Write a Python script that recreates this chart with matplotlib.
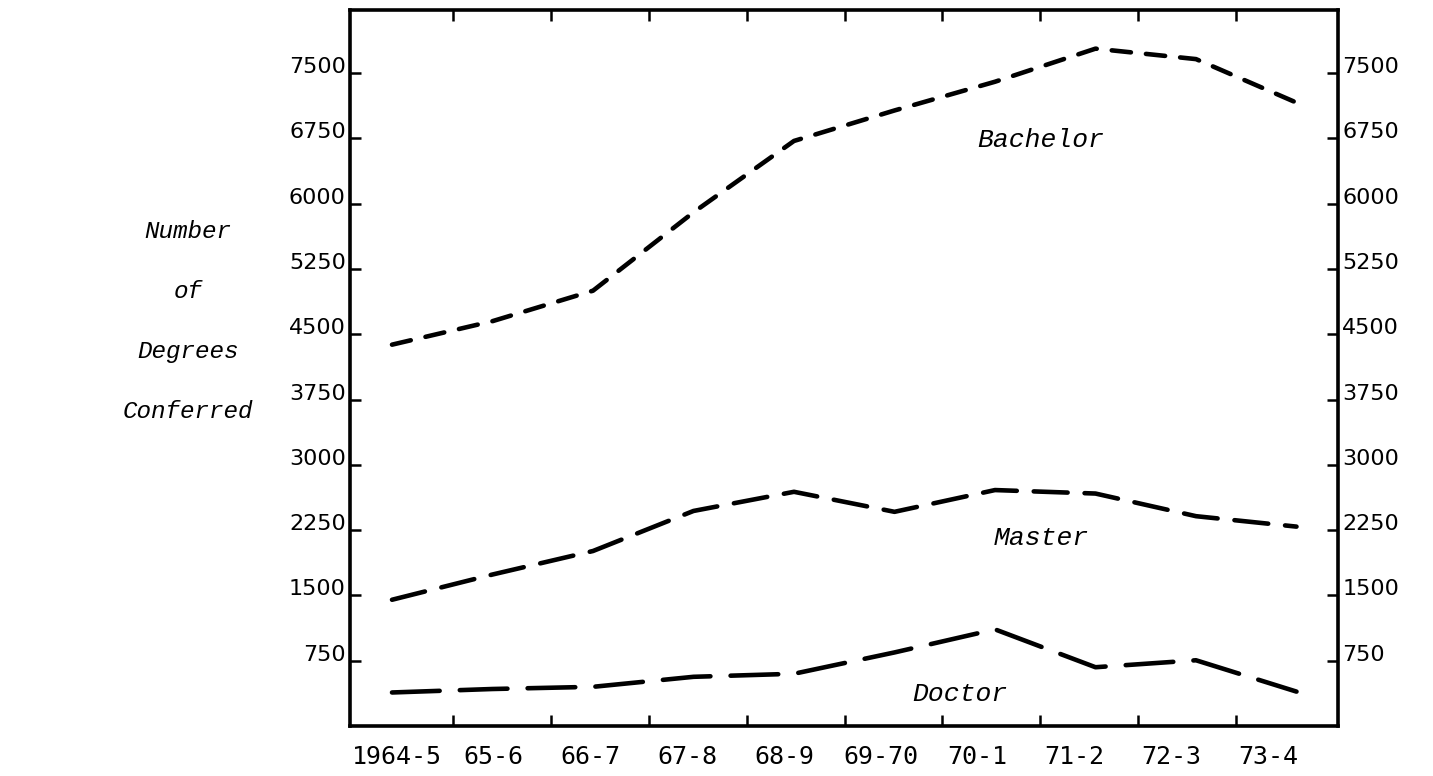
import numpy as np
import matplotlib
matplotlib.use("Agg")
import matplotlib.pyplot as plt

# ---- data ----
years = ["1964-5", "65-6", "66-7", "67-8", "68-9", "69-70", "70-1", "71-2", "72-3", "73-4"]
bachelor = [4380, 4650, 5000, 5900, 6720, 7070, 7400, 7780, 7660, 7160]
master = [1450, 1740, 2010, 2470, 2690, 2460, 2710, 2670, 2410, 2290]
doctor = [385, 425, 450, 565, 600, 845, 1110, 675, 755, 395]
y_ticks = [750, 1500, 2250, 3000, 3750, 4500, 5250, 6000, 6750, 7500]
ylabel_lines = ["Number", "of", "Degrees", "Conferred"]

W, H = 1433, 776
fig = plt.figure(figsize=(W / 100, H / 100), dpi=100)
fig.patch.set_facecolor("white")

# axes box in pixels: left 350, right 1338, top 10, bottom 726
ax = fig.add_axes([350 / W, 1 - 726 / H, (1338 - 350) / W, (726 - 10) / H])

x = np.arange(len(years))
mono_it = dict(family="Liberation Mono", style="italic", fontsize=19)

ax.plot(x, bachelor, color="black", lw=3.3, dashes=(4.2, 3.3), dash_capstyle="round")
ax.plot(x, master, color="black", lw=3.3, dashes=(7.4, 3.7), dash_capstyle="round")
ax.plot(x, doctor, color="black", lw=3.3, dashes=(10.4, 4.4), dash_capstyle="round")

ax.set_xlim(-0.418, 9.413)
ax.set_ylim(0, 8224)

# series labels
ax.text(6.46, 6730, "Bachelor", ha="center", va="center", **mono_it)
ax.text(6.46, 2165, "Master", ha="center", va="center", **mono_it)
ax.text(5.65, 362, "Doctor", ha="center", va="center", **mono_it)

# x labels (slightly compressed relative to data positions, as in the original)
label_pos = np.arange(len(years)) * 0.963 + 0.05
ax.set_xticks(label_pos)
ax.set_xticklabels(years, family="DejaVu Sans Mono", fontsize=18)
ax.tick_params(axis="x", which="major", length=0, pad=14)
minor_pos = np.arange(len(years) - 1) * 0.974 + 0.607
ax.set_xticks(minor_pos, minor=True)
ax.tick_params(axis="x", which="minor", direction="in", length=8, width=1.8,
               top=True, bottom=True)

# y ticks on both sides
ax.set_yticks(y_ticks)
ax.set_yticklabels([str(v) for v in y_ticks], family="DejaVu Sans", fontsize=16)
ax.tick_params(axis="y", which="major", direction="in", length=8, width=1.8,
               left=True, right=True, labelleft=True, labelright=True, pad=3)
for t in ax.yaxis.get_major_ticks():
    t.label1.set_verticalalignment("baseline")
    t.label2.set_verticalalignment("baseline")

for s in ax.spines.values():
    s.set_linewidth(2.6)
    s.set_color("black")

# stacked y-axis title on the left
ypix = [232, 292, 352, 412]
for line, yp in zip(ylabel_lines, ypix):
    fig.text(188 / W, 1 - yp / H, line, ha="center", va="center",
             family="Liberation Mono", style="italic", fontsize=17.5)

fig.savefig("out.png", dpi=100, facecolor="white")
